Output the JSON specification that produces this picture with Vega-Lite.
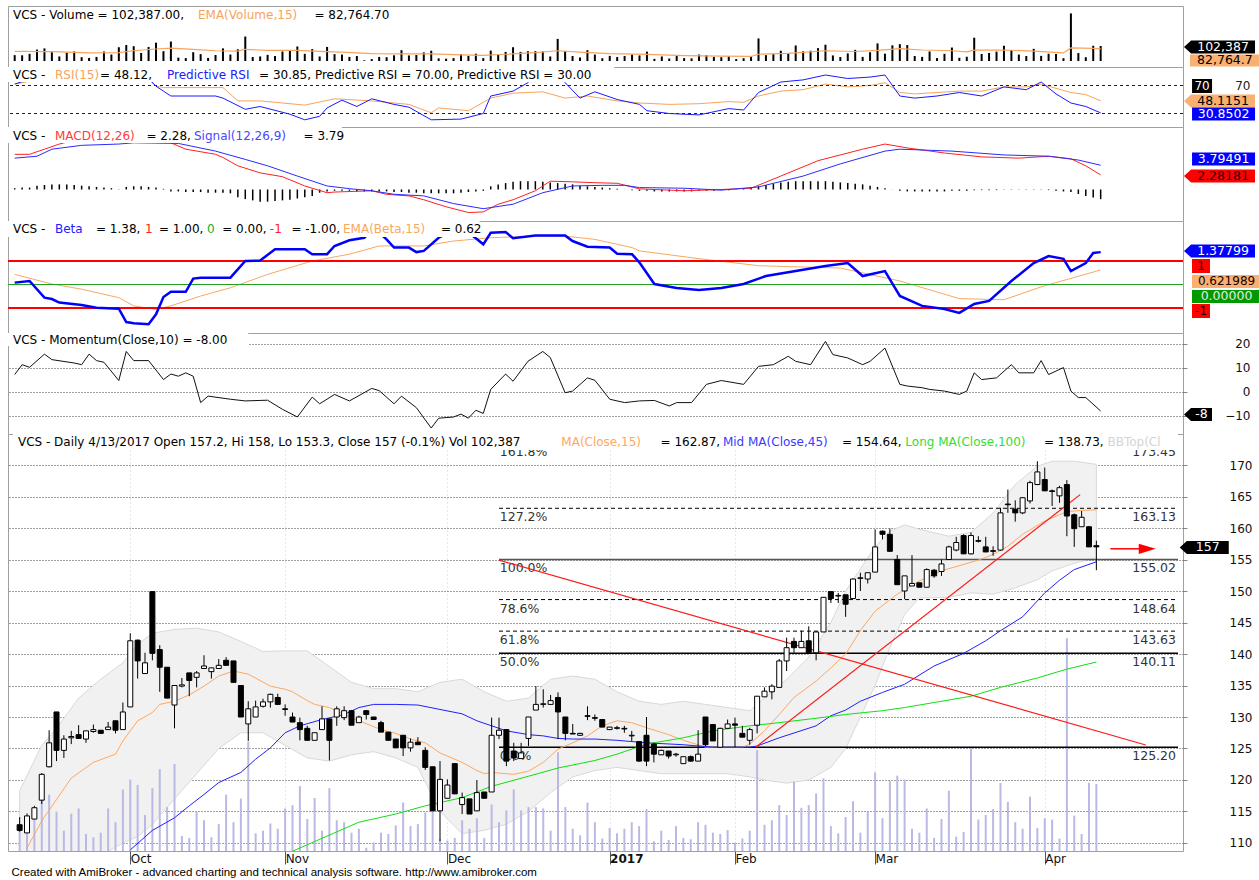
{
"$schema":"https://vega.github.io/schema/vega-lite/v6.json",
"background":"white",
"padding":{"left":6,"top":5,"right":0,"bottom":0},
"spacing":0,
"bounds":"flush",
"config":{"font":"DejaVu Sans","view":{"stroke":"#a0a0a0"},"axis":{"labelFont":"DejaVu Sans"},"text":{"font":"DejaVu Sans"}},
"title":{"text":"Created with AmiBroker - advanced charting and technical analysis software. http://www.amibroker.com","orient":"bottom","anchor":"start","font":"Liberation Sans","fontSize":11.5,"fontWeight":"normal","color":"black","offset":2,"dx":5},
"datasets":{
"one":[{}],
"px":[
{"i":0,"o":112.9,"h":114.1,"l":111.8,"c":112.0,"v":40000},
{"i":1,"o":111.6,"h":114.7,"l":111.6,"c":114.3,"v":39000},
{"i":2,"o":113.8,"h":115.9,"l":113.8,"c":115.6,"v":49000},
{"i":3,"o":116.8,"h":121.1,"l":116.2,"c":120.9,"v":78000},
{"i":4,"o":122.1,"h":127.9,"l":122.0,"c":125.9,"v":86000},
{"i":5,"o":130.8,"h":130.8,"l":123.0,"c":124.7,"v":60000},
{"i":6,"o":124.7,"h":127.1,"l":123.5,"c":126.5,"v":31000},
{"i":7,"o":126.7,"h":127.8,"l":125.7,"c":126.9,"v":57000},
{"i":8,"o":127.2,"h":128.7,"l":126.6,"c":126.6,"v":65000},
{"i":9,"o":126.5,"h":127.8,"l":125.9,"c":127.8,"v":26000},
{"i":10,"o":127.7,"h":128.8,"l":127.5,"c":128.0,"v":21000},
{"i":11,"o":127.9,"h":127.9,"l":127.4,"c":127.4,"v":28000},
{"i":12,"o":128.0,"h":129.2,"l":128.0,"c":128.4,"v":65000},
{"i":13,"o":129.4,"h":129.4,"l":127.4,"c":127.9,"v":44000},
{"i":14,"o":128.0,"h":132.3,"l":128.0,"c":130.8,"v":94000},
{"i":15,"o":131.6,"h":143.3,"l":131.6,"c":142.1,"v":109000},
{"i":16,"o":142.2,"h":142.3,"l":136.1,"c":138.9,"v":101000},
{"i":17,"o":136.9,"h":140.2,"l":136.9,"c":138.6,"v":55000},
{"i":18,"o":149.9,"h":149.9,"l":139.0,"c":140.1,"v":96000},
{"i":19,"o":140.7,"h":141.4,"l":134.0,"c":137.9,"v":125000},
{"i":20,"o":137.9,"h":137.9,"l":133.0,"c":133.0,"v":67000},
{"i":21,"o":131.9,"h":135.0,"l":128.2,"c":135.0,"v":133000},
{"i":22,"o":134.9,"h":136.2,"l":134.7,"c":135.1,"v":23000},
{"i":23,"o":137.0,"h":137.0,"l":133.3,"c":135.8,"v":20000},
{"i":24,"o":136.3,"h":137.3,"l":134.7,"c":137.0,"v":60000},
{"i":25,"o":137.7,"h":139.8,"l":137.7,"c":138.1,"v":47000},
{"i":26,"o":137.2,"h":137.8,"l":136.1,"c":137.8,"v":21000},
{"i":27,"o":137.7,"h":139.2,"l":137.7,"c":138.2,"v":41000},
{"i":28,"o":139.0,"h":139.5,"l":138.2,"c":138.2,"v":86000},
{"i":29,"o":138.9,"h":138.9,"l":135.5,"c":135.5,"v":44000},
{"i":30,"o":135.0,"h":135.0,"l":130.0,"c":130.0,"v":80000},
{"i":31,"o":128.9,"h":132.5,"l":126.2,"c":131.3,"v":167000},
{"i":32,"o":130.0,"h":132.6,"l":130.0,"c":131.6,"v":27000},
{"i":33,"o":131.7,"h":132.9,"l":131.5,"c":132.4,"v":31000},
{"i":34,"o":132.4,"h":133.7,"l":131.5,"c":133.6,"v":42000},
{"i":35,"o":133.1,"h":133.7,"l":132.0,"c":132.0,"v":34000},
{"i":36,"o":131.3,"h":132.0,"l":130.2,"c":131.2,"v":65000},
{"i":37,"o":130.0,"h":130.7,"l":129.2,"c":129.2,"v":70000},
{"i":38,"o":129.1,"h":129.9,"l":126.3,"c":128.0,"v":99000},
{"i":39,"o":128.2,"h":128.6,"l":126.3,"c":126.3,"v":49000},
{"i":40,"o":126.3,"h":127.5,"l":126.3,"c":127.5,"v":81000},
{"i":41,"o":128.0,"h":131.7,"l":128.0,"c":129.7,"v":31000},
{"i":42,"o":129.7,"h":129.7,"l":123.1,"c":126.3,"v":96000},
{"i":43,"o":130.0,"h":131.7,"l":128.6,"c":131.3,"v":47000},
{"i":44,"o":129.9,"h":131.7,"l":129.5,"c":131.0,"v":44000},
{"i":45,"o":131.0,"h":131.1,"l":128.7,"c":128.7,"v":28000},
{"i":46,"o":129.1,"h":130.2,"l":129.1,"c":130.0,"v":34000},
{"i":47,"o":131.0,"h":131.1,"l":129.6,"c":130.4,"v":5000},
{"i":48,"o":130.0,"h":130.0,"l":129.6,"c":129.6,"v":13000},
{"i":49,"o":129.1,"h":129.4,"l":127.6,"c":127.6,"v":28000},
{"i":50,"o":127.6,"h":127.6,"l":126.3,"c":126.3,"v":26000},
{"i":51,"o":126.5,"h":126.5,"l":125.1,"c":125.1,"v":39000},
{"i":52,"o":127.1,"h":127.1,"l":123.8,"c":125.1,"v":74000},
{"i":53,"o":125.1,"h":126.6,"l":124.5,"c":126.0,"v":38000},
{"i":54,"o":126.0,"h":126.8,"l":125.6,"c":125.6,"v":41000},
{"i":55,"o":124.7,"h":125.2,"l":121.6,"c":122.0,"v":59000},
{"i":56,"o":122.1,"h":122.1,"l":115.1,"c":115.1,"v":70000},
{"i":57,"o":115.1,"h":123.0,"l":110.3,"c":120.1,"v":18000},
{"i":58,"o":117.1,"h":120.1,"l":117.1,"c":119.2,"v":16000},
{"i":59,"o":122.6,"h":122.6,"l":117.8,"c":117.8,"v":20000},
{"i":60,"o":116.1,"h":118.0,"l":114.6,"c":117.2,"v":47000},
{"i":61,"o":117.0,"h":117.0,"l":114.6,"c":114.6,"v":34000},
{"i":62,"o":115.1,"h":120.0,"l":115.1,"c":118.0,"v":50000},
{"i":63,"o":118.1,"h":118.1,"l":117.1,"c":117.1,"v":20000},
{"i":64,"o":118.1,"h":129.9,"l":118.1,"c":127.1,"v":71000},
{"i":65,"o":127.1,"h":129.9,"l":126.5,"c":127.9,"v":44000},
{"i":66,"o":128.0,"h":128.0,"l":122.2,"c":123.0,"v":62000},
{"i":67,"o":124.6,"h":125.9,"l":123.0,"c":123.5,"v":94000},
{"i":68,"o":123.4,"h":125.9,"l":123.4,"c":124.3,"v":62000},
{"i":69,"o":126.6,"h":130.0,"l":125.4,"c":130.0,"v":67000},
{"i":70,"o":131.1,"h":134.9,"l":131.1,"c":132.0,"v":67000},
{"i":71,"o":132.0,"h":134.4,"l":131.5,"c":132.1,"v":65000},
{"i":72,"o":132.0,"h":133.5,"l":132.0,"c":132.6,"v":31000},
{"i":73,"o":133.1,"h":133.9,"l":126.5,"c":130.8,"v":151000},
{"i":74,"o":130.0,"h":130.0,"l":126.3,"c":127.4,"v":67000},
{"i":75,"o":127.4,"h":128.9,"l":127.3,"c":127.3,"v":34000},
{"i":76,"o":127.1,"h":127.5,"l":127.0,"c":127.4,"v":24000},
{"i":77,"o":130.2,"h":131.7,"l":129.5,"c":130.1,"v":74000},
{"i":78,"o":129.9,"h":130.4,"l":129.4,"c":129.8,"v":44000},
{"i":79,"o":129.6,"h":129.6,"l":128.4,"c":128.4,"v":19000},
{"i":80,"o":128.0,"h":128.4,"l":128.0,"c":128.4,"v":35000},
{"i":81,"o":128.2,"h":128.6,"l":128.0,"c":128.3,"v":27000},
{"i":82,"o":128.2,"h":128.6,"l":127.5,"c":128.1,"v":34000},
{"i":83,"o":127.0,"h":127.8,"l":126.2,"c":127.1,"v":44000},
{"i":84,"o":126.1,"h":126.1,"l":122.9,"c":123.0,"v":38000},
{"i":85,"o":127.1,"h":130.0,"l":122.2,"c":123.0,"v":64000},
{"i":86,"o":125.7,"h":125.9,"l":122.8,"c":124.1,"v":15000},
{"i":87,"o":124.0,"h":124.8,"l":124.0,"c":124.7,"v":31000},
{"i":88,"o":124.6,"h":124.6,"l":123.4,"c":123.8,"v":17000},
{"i":89,"o":124.0,"h":124.3,"l":123.7,"c":124.1,"v":38000},
{"i":90,"o":122.6,"h":123.7,"l":122.6,"c":123.7,"v":20000},
{"i":91,"o":123.7,"h":123.9,"l":122.9,"c":123.0,"v":18000},
{"i":92,"o":123.0,"h":127.9,"l":123.0,"c":124.1,"v":44000},
{"i":93,"o":130.0,"h":130.0,"l":125.4,"c":125.6,"v":40000},
{"i":94,"o":128.8,"h":128.9,"l":126.2,"c":126.2,"v":28000},
{"i":95,"o":125.2,"h":128.3,"l":125.2,"c":128.2,"v":26000},
{"i":96,"o":128.2,"h":129.6,"l":128.2,"c":128.9,"v":32000},
{"i":97,"o":128.9,"h":129.9,"l":125.2,"c":128.7,"v":13000},
{"i":98,"o":127.4,"h":128.6,"l":126.8,"c":126.8,"v":19000},
{"i":99,"o":126.3,"h":128.3,"l":125.6,"c":128.0,"v":31000},
{"i":100,"o":128.7,"h":133.3,"l":127.4,"c":133.3,"v":154000},
{"i":101,"o":133.2,"h":134.7,"l":133.2,"c":134.1,"v":40000},
{"i":102,"o":134.0,"h":135.2,"l":132.8,"c":134.9,"v":47000},
{"i":103,"o":134.7,"h":139.2,"l":134.7,"c":138.9,"v":70000},
{"i":104,"o":138.9,"h":142.6,"l":137.3,"c":141.0,"v":55000},
{"i":105,"o":142.0,"h":142.6,"l":140.2,"c":141.0,"v":106000},
{"i":106,"o":141.0,"h":143.7,"l":141.0,"c":142.0,"v":66000},
{"i":107,"o":142.1,"h":144.4,"l":140.2,"c":140.2,"v":70000},
{"i":108,"o":140.2,"h":143.5,"l":139.0,"c":143.5,"v":88000},
{"i":109,"o":143.5,"h":149.0,"l":143.5,"c":149.0,"v":111000},
{"i":110,"o":149.9,"h":149.9,"l":148.1,"c":148.8,"v":38000},
{"i":111,"o":149.2,"h":149.7,"l":148.1,"c":149.3,"v":27000},
{"i":112,"o":149.4,"h":149.4,"l":145.9,"c":147.9,"v":52000},
{"i":113,"o":148.8,"h":152.0,"l":148.8,"c":151.9,"v":76000},
{"i":114,"o":152.0,"h":152.9,"l":150.0,"c":152.1,"v":28000},
{"i":115,"o":151.9,"h":152.9,"l":151.2,"c":152.9,"v":60000},
{"i":116,"o":153.0,"h":159.8,"l":153.0,"c":157.0,"v":120000},
{"i":117,"o":159.5,"h":159.6,"l":158.2,"c":159.0,"v":50000},
{"i":118,"o":159.0,"h":159.9,"l":156.3,"c":156.3,"v":107000},
{"i":119,"o":155.0,"h":155.7,"l":151.0,"c":151.0,"v":115000},
{"i":120,"o":150.0,"h":152.4,"l":148.7,"c":152.4,"v":109000},
{"i":121,"o":150.8,"h":155.7,"l":150.8,"c":151.2,"v":34000},
{"i":122,"o":151.3,"h":151.3,"l":150.6,"c":150.6,"v":28000},
{"i":123,"o":150.6,"h":153.6,"l":150.6,"c":153.4,"v":65000},
{"i":124,"o":153.3,"h":153.5,"l":152.1,"c":152.4,"v":20000},
{"i":125,"o":153.1,"h":155.0,"l":152.4,"c":154.3,"v":49000},
{"i":126,"o":155.0,"h":157.2,"l":155.0,"c":157.0,"v":92000},
{"i":127,"o":156.5,"h":158.6,"l":156.3,"c":157.7,"v":22000},
{"i":128,"o":158.8,"h":159.0,"l":155.9,"c":155.9,"v":29000},
{"i":129,"o":155.9,"h":159.3,"l":155.8,"c":158.8,"v":159000},
{"i":130,"o":158.0,"h":158.7,"l":157.7,"c":157.9,"v":48000},
{"i":131,"o":157.0,"h":158.6,"l":156.2,"c":156.2,"v":55000},
{"i":132,"o":156.4,"h":157.1,"l":155.6,"c":156.3,"v":64000},
{"i":133,"o":156.5,"h":163.2,"l":156.4,"c":162.4,"v":104000},
{"i":134,"o":163.8,"h":166.1,"l":162.4,"c":163.7,"v":75000},
{"i":135,"o":163.0,"h":164.4,"l":161.0,"c":162.4,"v":44000},
{"i":136,"o":162.4,"h":164.9,"l":162.2,"c":164.8,"v":34000},
{"i":137,"o":164.3,"h":167.5,"l":163.9,"c":167.2,"v":83000},
{"i":138,"o":166.9,"h":170.6,"l":166.8,"c":168.9,"v":35000},
{"i":139,"o":167.7,"h":169.6,"l":165.9,"c":165.9,"v":50000},
{"i":140,"o":165.9,"h":166.1,"l":163.5,"c":165.8,"v":48000},
{"i":141,"o":165.1,"h":166.7,"l":164.0,"c":166.4,"v":19000},
{"i":142,"o":166.9,"h":167.6,"l":158.7,"c":161.9,"v":325000},
{"i":143,"o":162.1,"h":162.3,"l":157.0,"c":159.9,"v":54000},
{"i":144,"o":160.2,"h":162.7,"l":160.2,"c":161.7,"v":26000},
{"i":145,"o":160.2,"h":160.3,"l":157.0,"c":157.0,"v":104000},
{"i":146,"o":157.2,"h":158.0,"l":153.3,"c":157.0,"v":102387}
],
"vema":[{"i":0,"v":66000},{"i":5,"v":64000},{"i":10,"v":55000},{"i":14,"v":57000},{"i":16,"v":70000},{"i":19,"v":82000},{"i":21,"v":88000},{"i":24,"v":80000},{"i":27,"v":70000},{"i":30,"v":68000},{"i":31,"v":80000},{"i":34,"v":72000},{"i":38,"v":72000},{"i":41,"v":66000},{"i":44,"v":60000},{"i":48,"v":50000},{"i":52,"v":48000},{"i":56,"v":49000},{"i":60,"v":42000},{"i":63,"v":38000},{"i":66,"v":46000},{"i":70,"v":57000},{"i":73,"v":70000},{"i":76,"v":60000},{"i":80,"v":50000},{"i":85,"v":45000},{"i":90,"v":37000},{"i":95,"v":33000},{"i":99,"v":31000},{"i":100,"v":46000},{"i":104,"v":52000},{"i":109,"v":70000},{"i":113,"v":65000},{"i":116,"v":72000},{"i":119,"v":85000},{"i":122,"v":75000},{"i":126,"v":70000},{"i":128,"v":62000},{"i":129,"v":74000},{"i":133,"v":75000},{"i":137,"v":68000},{"i":141,"v":55000},{"i":142,"v":89000},{"i":145,"v":86000},{"i":146,"v":82765}],
"rsi":[{"i":0,"r":72},{"i":2,"r":76},{"i":4,"r":82},{"i":6,"r":84},{"i":8,"r":84},{"i":10,"r":83},{"i":12,"r":84},{"i":14,"r":86},{"i":16,"r":86},{"i":18,"r":78},{"i":19,"r":69},{"i":20,"r":67},{"i":28,"r":67},{"i":30,"r":48},{"i":33,"r":48},{"i":39,"r":42},{"i":43,"r":51},{"i":48,"r":48},{"i":53,"r":43},{"i":56,"r":31},{"i":57,"r":38},{"i":61,"r":34},{"i":64,"r":52},{"i":67,"r":59},{"i":71,"r":61},{"i":74,"r":52},{"i":77,"r":55},{"i":81,"r":48},{"i":84,"r":45},{"i":88,"r":43},{"i":92,"r":44},{"i":96,"r":47},{"i":98,"r":46},{"i":100,"r":55},{"i":103,"r":62},{"i":106,"r":64},{"i":109,"r":72},{"i":112,"r":68},{"i":115,"r":70},{"i":117,"r":74},{"i":119,"r":60},{"i":121,"r":58},{"i":124,"r":60},{"i":127,"r":62},{"i":130,"r":62},{"i":133,"r":68},{"i":136,"r":68},{"i":138,"r":72},{"i":140,"r":66},{"i":142,"r":60},{"i":144,"r":57},{"i":146,"r":48.12}],
"prsi":[{"i":0,"r":72},{"i":2,"r":79},{"i":4,"r":88},{"i":8,"r":90},{"i":12,"r":90},{"i":16,"r":92},{"i":18,"r":80},{"i":19,"r":69},{"i":20,"r":62},{"i":21,"r":55},{"i":27,"r":55},{"i":28,"r":52},{"i":31,"r":36},{"i":33,"r":40},{"i":37,"r":29},{"i":39,"r":21},{"i":41,"r":26},{"i":42,"r":38},{"i":44,"r":49},{"i":46,"r":40},{"i":48,"r":51},{"i":51,"r":43},{"i":53,"r":39},{"i":56,"r":21},{"i":60,"r":22},{"i":63,"r":30},{"i":64,"r":55},{"i":67,"r":62},{"i":69,"r":74},{"i":70,"r":85},{"i":73,"r":88},{"i":74,"r":74},{"i":76,"r":52},{"i":78,"r":61},{"i":81,"r":50},{"i":84,"r":43},{"i":85,"r":34},{"i":88,"r":30},{"i":92,"r":28},{"i":96,"r":37},{"i":98,"r":35},{"i":100,"r":60},{"i":103,"r":75},{"i":106,"r":78},{"i":109,"r":85},{"i":112,"r":80},{"i":115,"r":82},{"i":117,"r":85},{"i":119,"r":55},{"i":121,"r":52},{"i":124,"r":55},{"i":127,"r":60},{"i":130,"r":55},{"i":133,"r":68},{"i":136,"r":64},{"i":138,"r":75},{"i":140,"r":58},{"i":142,"r":45},{"i":144,"r":40},{"i":146,"r":30.85}],
"macd":[{"i":0,"m":5.5},{"i":2,"m":5.5},{"i":4,"m":6.3},{"i":6,"m":7.1},{"i":9,"m":8.0},{"i":12,"m":8.5},{"i":15,"m":8.8},{"i":18,"m":9.3},{"i":21,"m":7.3},{"i":23,"m":6.3},{"i":27,"m":5.5},{"i":28,"m":5.0},{"i":30,"m":3.7},{"i":33,"m":2.6},{"i":36,"m":2.0},{"i":39,"m":0.55},{"i":42,"m":-0.5},{"i":43,"m":-0.4},{"i":48,"m":-0.2},{"i":50,"m":-0.75},{"i":53,"m":-1.0},{"i":55,"m":-1.6},{"i":58,"m":-2.7},{"i":61,"m":-3.6},{"i":63,"m":-3.5},{"i":65,"m":-2.3},{"i":67,"m":-1.6},{"i":70,"m":-0.2},{"i":72,"m":1.3},{"i":75,"m":1.2},{"i":78,"m":1.06},{"i":81,"m":0.97},{"i":84,"m":0.1},{"i":90,"m":-0.2},{"i":95,"m":0.0},{"i":99,"m":0.2},{"i":103,"m":2.1},{"i":108,"m":4.5},{"i":114,"m":6.3},{"i":117,"m":7.1},{"i":120,"m":6.5},{"i":125,"m":5.7},{"i":130,"m":5.1},{"i":135,"m":4.9},{"i":139,"m":5.2},{"i":142,"m":4.8},{"i":144,"m":3.7},{"i":146,"m":2.28}],
"sig":[{"i":0,"m":4.9},{"i":3,"m":5.2},{"i":5,"m":6.3},{"i":9,"m":6.9},{"i":14,"m":7.1},{"i":16,"m":7.3},{"i":22,"m":7.2},{"i":27,"m":6.0},{"i":31,"m":4.7},{"i":34,"m":3.7},{"i":38,"m":2.1},{"i":42,"m":0.55},{"i":45,"m":0.13},{"i":48,"m":-0.2},{"i":51,"m":-0.75},{"i":55,"m":-1.0},{"i":59,"m":-2.2},{"i":63,"m":-3.0},{"i":67,"m":-2.3},{"i":71,"m":-0.5},{"i":75,"m":0.55},{"i":79,"m":0.65},{"i":82,"m":0.65},{"i":84,"m":0.3},{"i":90,"m":0.2},{"i":95,"m":-0.1},{"i":100,"m":0.4},{"i":106,"m":2.1},{"i":111,"m":4.0},{"i":117,"m":6.0},{"i":119,"m":6.3},{"i":126,"m":6.0},{"i":133,"m":5.4},{"i":139,"m":5.2},{"i":143,"m":4.6},{"i":146,"m":3.79}],
"hist":[{"i":0,"h":0.2},{"i":1,"h":0.3},{"i":2,"h":0.3},{"i":3,"h":0.6},{"i":4,"h":0.7},{"i":5,"h":0.8},{"i":6,"h":0.8},{"i":7,"h":0.8},{"i":8,"h":0.7},{"i":9,"h":0.6},{"i":10,"h":0.5},{"i":11,"h":0.4},{"i":12,"h":0.3},{"i":13,"h":0.2},{"i":14,"h":0.05},{"i":15,"h":0.4},{"i":16,"h":0.5},{"i":17,"h":0.5},{"i":18,"h":0.4},{"i":19,"h":0.3},{"i":20,"h":0.1},{"i":21,"h":-0.3},{"i":22,"h":-0.3},{"i":23,"h":-0.4},{"i":24,"h":-0.4},{"i":25,"h":-0.4},{"i":26,"h":-0.5},{"i":27,"h":-0.5},{"i":28,"h":-0.5},{"i":29,"h":-0.6},{"i":30,"h":-1.2},{"i":31,"h":-1.5},{"i":32,"h":-1.7},{"i":33,"h":-1.9},{"i":34,"h":-1.9},{"i":35,"h":-1.8},{"i":36,"h":-1.7},{"i":37,"h":-1.6},{"i":38,"h":-1.4},{"i":39,"h":-1.2},{"i":40,"h":-1.0},{"i":41,"h":-0.5},{"i":42,"h":-0.3},{"i":43,"h":-0.2},{"i":44,"h":-0.2},{"i":45,"h":-0.2},{"i":46,"h":-0.3},{"i":47,"h":-0.3},{"i":48,"h":-0.3},{"i":49,"h":-0.3},{"i":50,"h":-0.3},{"i":51,"h":-0.4},{"i":52,"h":-0.4},{"i":53,"h":-0.5},{"i":54,"h":-0.5},{"i":55,"h":-0.6},{"i":56,"h":-0.6},{"i":57,"h":-0.6},{"i":58,"h":-0.6},{"i":59,"h":-0.6},{"i":60,"h":-0.5},{"i":61,"h":-0.4},{"i":62,"h":-0.3},{"i":63,"h":-0.2},{"i":64,"h":0.5},{"i":65,"h":0.8},{"i":66,"h":1.0},{"i":67,"h":1.2},{"i":68,"h":1.3},{"i":69,"h":1.3},{"i":70,"h":1.3},{"i":71,"h":1.2},{"i":72,"h":1.1},{"i":73,"h":1.0},{"i":74,"h":0.9},{"i":75,"h":0.8},{"i":76,"h":0.6},{"i":77,"h":0.5},{"i":78,"h":0.4},{"i":79,"h":0.3},{"i":80,"h":0.2},{"i":81,"h":0.1},{"i":82,"h":0.02},{"i":83,"h":-0.1},{"i":84,"h":-0.2},{"i":85,"h":-0.2},{"i":86,"h":-0.3},{"i":87,"h":-0.3},{"i":88,"h":-0.3},{"i":89,"h":-0.3},{"i":90,"h":-0.3},{"i":91,"h":-0.3},{"i":92,"h":-0.2},{"i":93,"h":-0.2},{"i":94,"h":-0.2},{"i":95,"h":-0.1},{"i":96,"h":-0.1},{"i":97,"h":0.02},{"i":98,"h":0.1},{"i":99,"h":0.3},{"i":100,"h":0.5},{"i":101,"h":0.7},{"i":102,"h":0.9},{"i":103,"h":1.1},{"i":104,"h":1.2},{"i":105,"h":1.3},{"i":106,"h":1.3},{"i":107,"h":1.3},{"i":108,"h":1.3},{"i":109,"h":1.3},{"i":110,"h":1.2},{"i":111,"h":1.1},{"i":112,"h":1.0},{"i":113,"h":0.9},{"i":114,"h":0.8},{"i":115,"h":0.6},{"i":116,"h":0.4},{"i":117,"h":0.2},{"i":118,"h":0.02},{"i":119,"h":-0.2},{"i":120,"h":-0.3},{"i":121,"h":-0.3},{"i":122,"h":-0.3},{"i":123,"h":-0.3},{"i":124,"h":-0.3},{"i":125,"h":-0.3},{"i":126,"h":-0.2},{"i":127,"h":-0.2},{"i":128,"h":-0.2},{"i":129,"h":-0.1},{"i":130,"h":-0.1},{"i":131,"h":-0.1},{"i":132,"h":-0.1},{"i":133,"h":-0.05},{"i":134,"h":0.05},{"i":135,"h":0.05},{"i":136,"h":-0.05},{"i":137,"h":-0.05},{"i":138,"h":-0.05},{"i":139,"h":-0.1},{"i":140,"h":-0.2},{"i":141,"h":-0.3},{"i":142,"h":-0.4},{"i":143,"h":-0.7},{"i":144,"h":-1.0},{"i":145,"h":-1.25},{"i":146,"h":-1.51}],
"beta":[{"i":0,"b":0.08},{"i":2,"b":0.15},{"i":4,"b":-0.56},{"i":5,"b":-0.62},{"i":6,"b":-0.77},{"i":9,"b":-0.87},{"i":11,"b":-0.99},{"i":14,"b":-1.03},{"i":15,"b":-1.6},{"i":16,"b":-1.65},{"i":18,"b":-1.69},{"i":19,"b":-1.27},{"i":20,"b":-0.53},{"i":21,"b":-0.31},{"i":23,"b":-0.31},{"i":24,"b":0.25},{"i":25,"b":0.29},{"i":29,"b":0.29},{"i":31,"b":1.0},{"i":33,"b":1.02},{"i":35,"b":1.5},{"i":39,"b":1.5},{"i":40,"b":1.29},{"i":42,"b":1.29},{"i":43,"b":1.64},{"i":45,"b":1.88},{"i":47,"b":1.99},{"i":48,"b":2.3},{"i":49,"b":2.2},{"i":50,"b":1.92},{"i":51,"b":1.57},{"i":53,"b":1.57},{"i":54,"b":1.38},{"i":55,"b":1.43},{"i":57,"b":1.99},{"i":59,"b":2.3},{"i":61,"b":2.2},{"i":62,"b":1.97},{"i":63,"b":1.71},{"i":64,"b":2.2},{"i":66,"b":2.23},{"i":67,"b":1.97},{"i":70,"b":2.09},{"i":74,"b":2.09},{"i":75,"b":1.85},{"i":77,"b":1.61},{"i":80,"b":1.57},{"i":81,"b":1.31},{"i":83,"b":1.29},{"i":84,"b":0.93},{"i":86,"b":0.02},{"i":89,"b":-0.15},{"i":92,"b":-0.23},{"i":95,"b":-0.15},{"i":98,"b":0.02},{"i":101,"b":0.36},{"i":105,"b":0.57},{"i":109,"b":0.79},{"i":112,"b":0.91},{"i":114,"b":0.36},{"i":117,"b":0.57},{"i":119,"b":-0.49},{"i":122,"b":-0.91},{"i":125,"b":-1.04},{"i":127,"b":-1.21},{"i":129,"b":-0.83},{"i":131,"b":-0.7},{"i":134,"b":0.15},{"i":137,"b":0.91},{"i":139,"b":1.21},{"i":141,"b":1.09},{"i":142,"b":0.57},{"i":144,"b":0.91},{"i":145,"b":1.34},{"i":146,"b":1.378}],
"bema":[{"i":0,"b":0.43},{"i":5,"b":0.02},{"i":9,"b":-0.2},{"i":14,"b":-0.56},{"i":16,"b":-0.91},{"i":19,"b":-1.06},{"i":21,"b":-0.91},{"i":25,"b":-0.49},{"i":29,"b":-0.14},{"i":34,"b":0.43},{"i":40,"b":1.0},{"i":45,"b":1.29},{"i":49,"b":1.64},{"i":55,"b":1.64},{"i":59,"b":1.85},{"i":64,"b":1.99},{"i":70,"b":2.06},{"i":74,"b":2.06},{"i":78,"b":1.92},{"i":83,"b":1.57},{"i":84,"b":1.43},{"i":92,"b":1.1},{"i":100,"b":0.8},{"i":111,"b":0.7},{"i":119,"b":0.15},{"i":127,"b":-0.6},{"i":133,"b":-0.65},{"i":138,"b":-0.1},{"i":146,"b":0.62}],
"mom":[{"i":0,"m":7.2},{"i":1,"m":11.3},{"i":2,"m":10.2},{"i":4,"m":15.7},{"i":5,"m":13.4},{"i":8,"m":12},{"i":9,"m":11.3},{"i":10,"m":15.7},{"i":11,"m":13},{"i":12,"m":12.3},{"i":14,"m":4.7},{"i":15,"m":16.8},{"i":16,"m":13},{"i":18,"m":13},{"i":20,"m":5.1},{"i":21,"m":7.4},{"i":22,"m":6.5},{"i":23,"m":7.9},{"i":24,"m":6.5},{"i":25,"m":-4.5},{"i":26,"m":-1.8},{"i":29,"m":-3.1},{"i":31,"m":-3.8},{"i":34,"m":-3.5},{"i":36,"m":-7.3},{"i":38,"m":-10.5},{"i":40,"m":-2.2},{"i":41,"m":-5},{"i":43,"m":-1.1},{"i":45,"m":-3.8},{"i":48,"m":1.4},{"i":49,"m":0.5},{"i":51,"m":-5},{"i":52,"m":-1.8},{"i":54,"m":-6.6},{"i":56,"m":-15.1},{"i":57,"m":-11},{"i":59,"m":-10.5},{"i":60,"m":-9.3},{"i":61,"m":-11},{"i":62,"m":-7.7},{"i":63,"m":-9},{"i":64,"m":1},{"i":66,"m":7.4},{"i":67,"m":4.4},{"i":69,"m":12.7},{"i":71,"m":16.8},{"i":72,"m":14.3},{"i":74,"m":-0.4},{"i":75,"m":0.3},{"i":77,"m":5.8},{"i":78,"m":4.8},{"i":80,"m":-3.1},{"i":82,"m":-4.5},{"i":84,"m":-3.8},{"i":86,"m":-3.6},{"i":88,"m":-5.9},{"i":89,"m":-4.5},{"i":91,"m":-4.5},{"i":93,"m":3.1},{"i":95,"m":4.7},{"i":98,"m":3.1},{"i":100,"m":10.6},{"i":102,"m":11.3},{"i":104,"m":14.8},{"i":105,"m":12.7},{"i":107,"m":11.3},{"i":109,"m":21},{"i":110,"m":15.5},{"i":112,"m":14.1},{"i":114,"m":11.3},{"i":115,"m":12.7},{"i":117,"m":18.2},{"i":119,"m":3.1},{"i":120,"m":2.4},{"i":122,"m":1.7},{"i":123,"m":1},{"i":125,"m":0.3},{"i":127,"m":-1.1},{"i":128,"m":0.3},{"i":129,"m":7.9},{"i":130,"m":5.1},{"i":132,"m":5.8},{"i":134,"m":11.3},{"i":135,"m":7.9},{"i":137,"m":7.9},{"i":138,"m":13},{"i":139,"m":7.2},{"i":141,"m":10.1},{"i":142,"m":0.3},{"i":143,"m":-2.4},{"i":144,"m":-2.4},{"i":146,"m":-8}],
"ma":[
{"s":"a","i":1,"p":109.2},{"s":"a","i":3,"p":113.5},{"s":"a","i":5,"p":116.9},{"s":"a","i":7,"p":120.3},{"s":"a","i":10,"p":122.8},{"s":"a","i":13,"p":124.1},{"s":"a","i":14,"p":126.2},{"s":"a","i":16,"p":129.4},{"s":"a","i":18,"p":130.7},{"s":"a","i":19,"p":132.0},{"s":"a","i":21,"p":132.5},{"s":"a","i":23,"p":133.5},{"s":"a","i":25,"p":134.9},{"s":"a","i":27,"p":136.5},{"s":"a","i":29,"p":137.3},{"s":"a","i":31,"p":136.8},{"s":"a","i":34,"p":134.9},{"s":"a","i":36,"p":134.4},{"s":"a","i":37,"p":134.0},{"s":"a","i":39,"p":132.6},{"s":"a","i":40,"p":132.0},{"s":"a","i":42,"p":131.5},{"s":"a","i":44,"p":130.4},{"s":"a","i":46,"p":129.4},{"s":"a","i":49,"p":128.0},{"s":"a","i":51,"p":127.4},{"s":"a","i":53,"p":126.5},{"s":"a","i":55,"p":125.9},{"s":"a","i":57,"p":124.3},{"s":"a","i":60,"p":122.8},{"s":"a","i":62,"p":121.5},{"s":"a","i":63,"p":121.0},{"s":"a","i":64,"p":121.2},{"s":"a","i":67,"p":120.9},{"s":"a","i":69,"p":121.4},{"s":"a","i":71,"p":122.8},{"s":"a","i":73,"p":124.9},{"s":"a","i":75,"p":125.9},{"s":"a","i":77,"p":127.0},{"s":"a","i":79,"p":128.6},{"s":"a","i":81,"p":129.4},{"s":"a","i":83,"p":129.1},{"s":"a","i":85,"p":128.3},{"s":"a","i":88,"p":127.2},{"s":"a","i":90,"p":126.3},{"s":"a","i":92,"p":125.6},{"s":"a","i":93,"p":125.2},{"s":"a","i":96,"p":125.2},{"s":"a","i":98,"p":125.2},{"s":"a","i":99,"p":125.7},{"s":"a","i":101,"p":127.8},{"s":"a","i":103,"p":130.4},{"s":"a","i":105,"p":133.1},{"s":"a","i":108,"p":135.7},{"s":"a","i":110,"p":137.8},{"s":"a","i":112,"p":140.0},{"s":"a","i":114,"p":143.7},{"s":"a","i":116,"p":146.8},{"s":"a","i":119,"p":149.5},{"s":"a","i":122,"p":151.6},{"s":"a","i":125,"p":153.2},{"s":"a","i":130,"p":154.9},{"s":"a","i":132,"p":155.8},{"s":"a","i":134,"p":157.1},{"s":"a","i":136,"p":159.0},{"s":"a","i":139,"p":161.1},{"s":"a","i":141,"p":162.1},{"s":"a","i":142,"p":162.6},{"s":"a","i":144,"p":162.8},{"s":"a","i":146,"p":162.87},
{"s":"b","i":15,"p":108.9},{"s":"b","i":18,"p":112.0},{"s":"b","i":21,"p":114.0},{"s":"b","i":23,"p":115.9},{"s":"b","i":25,"p":117.7},{"s":"b","i":27,"p":119.6},{"s":"b","i":30,"p":121.2},{"s":"b","i":32,"p":123.3},{"s":"b","i":34,"p":125.1},{"s":"b","i":36,"p":127.5},{"s":"b","i":38,"p":128.6},{"s":"b","i":41,"p":129.6},{"s":"b","i":44,"p":130.4},{"s":"b","i":46,"p":131.5},{"s":"b","i":48,"p":132.0},{"s":"b","i":51,"p":132.0},{"s":"b","i":54,"p":131.9},{"s":"b","i":57,"p":131.2},{"s":"b","i":60,"p":130.5},{"s":"b","i":62,"p":129.4},{"s":"b","i":64,"p":128.6},{"s":"b","i":66,"p":127.8},{"s":"b","i":69,"p":127.2},{"s":"b","i":71,"p":127.0},{"s":"b","i":73,"p":126.6},{"s":"b","i":75,"p":126.5},{"s":"b","i":78,"p":126.5},{"s":"b","i":81,"p":126.3},{"s":"b","i":85,"p":125.9},{"s":"b","i":90,"p":125.6},{"s":"b","i":94,"p":125.2},{"s":"b","i":99,"p":125.2},{"s":"b","i":100,"p":125.4},{"s":"b","i":103,"p":126.7},{"s":"b","i":108,"p":128.6},{"s":"b","i":110,"p":130.2},{"s":"b","i":112,"p":131.1},{"s":"b","i":114,"p":132.5},{"s":"b","i":117,"p":133.9},{"s":"b","i":120,"p":135.2},{"s":"b","i":124,"p":138.1},{"s":"b","i":128,"p":140.1},{"s":"b","i":131,"p":142.1},{"s":"b","i":133,"p":143.7},{"s":"b","i":136,"p":145.9},{"s":"b","i":139,"p":149.7},{"s":"b","i":141,"p":151.7},{"s":"b","i":143,"p":153.4},{"s":"b","i":146,"p":154.64},
{"s":"c","i":37,"p":108.7},{"s":"c","i":46,"p":113.3},{"s":"c","i":51,"p":114.6},{"s":"c","i":55,"p":115.9},{"s":"c","i":60,"p":117.2},{"s":"c","i":64,"p":119.0},{"s":"c","i":69,"p":120.6},{"s":"c","i":73,"p":121.9},{"s":"c","i":78,"p":123.1},{"s":"c","i":81,"p":124.1},{"s":"c","i":85,"p":125.7},{"s":"c","i":90,"p":126.7},{"s":"c","i":94,"p":127.8},{"s":"c","i":99,"p":128.6},{"s":"c","i":103,"p":129.1},{"s":"c","i":108,"p":129.8},{"s":"c","i":112,"p":130.4},{"s":"c","i":117,"p":131.0},{"s":"c","i":120,"p":131.5},{"s":"c","i":124,"p":132.3},{"s":"c","i":129,"p":133.3},{"s":"c","i":133,"p":134.7},{"s":"c","i":138,"p":136.2},{"s":"c","i":142,"p":137.6},{"s":"c","i":146,"p":138.73}
],
"bb":[{"i":0,"t":118.3,"b":104},{"i":3,"t":125.5,"b":104},{"i":5,"t":128.2,"b":104.5},{"i":8,"t":133,"b":106},{"i":11,"t":136,"b":108},{"i":14,"t":138.6,"b":110},{"i":16,"t":141.5,"b":111},{"i":18,"t":143.3,"b":113},{"i":21,"t":143.9,"b":117},{"i":24,"t":144.1,"b":121},{"i":27,"t":143.5,"b":125},{"i":30,"t":142,"b":127.5},{"i":33,"t":140.4,"b":127.5},{"i":36,"t":140.5,"b":125.5},{"i":39,"t":140.5,"b":123.5},{"i":42,"t":138,"b":123},{"i":45,"t":135.5,"b":124},{"i":48,"t":134.5,"b":124.5},{"i":51,"t":134.5,"b":123.5},{"i":54,"t":134,"b":122},{"i":57,"t":135.5,"b":115},{"i":60,"t":136,"b":111.5},{"i":63,"t":134,"b":112},{"i":66,"t":132.5,"b":113},{"i":69,"t":133,"b":115},{"i":72,"t":136,"b":118},{"i":75,"t":136.5,"b":120.5},{"i":78,"t":136,"b":121.5},{"i":81,"t":134,"b":122},{"i":84,"t":132.5,"b":121.5},{"i":87,"t":132,"b":121},{"i":90,"t":132.5,"b":121},{"i":93,"t":132,"b":121},{"i":96,"t":131.5,"b":121},{"i":99,"t":131,"b":120.5},{"i":101,"t":133,"b":120},{"i":104,"t":136,"b":119.5},{"i":107,"t":139.5,"b":120},{"i":110,"t":145,"b":122},{"i":112,"t":150,"b":125},{"i":114,"t":153.5,"b":130},{"i":116,"t":157,"b":135},{"i":118,"t":159.5,"b":141},{"i":120,"t":160.5,"b":146.3},{"i":122,"t":159.8,"b":148.9},{"i":126,"t":158.7,"b":149},{"i":129,"t":159.3,"b":149.7},{"i":132,"t":162.4,"b":149.5},{"i":135,"t":166.9,"b":150.5},{"i":138,"t":169.8,"b":151.8},{"i":140,"t":170.6,"b":153.2},{"i":143,"t":170.6,"b":154.4},{"i":146,"t":170.1,"b":155.3}],
"fib":[{"p":173.45,"pct":"161.8%","lbl":"173.45"},{"p":163.13,"pct":"127.2%","lbl":"163.13"},{"p":155.02,"pct":"100.0%","lbl":"155.02"},{"p":148.64,"pct":"78.6%","lbl":"148.64"},{"p":143.63,"pct":"61.8%","lbl":"143.63"},{"p":140.11,"pct":"50.0%","lbl":"140.11"},{"p":125.2,"pct":"0.0%","lbl":"125.20"}],
"trend":[{"ln":"a","i":65,"p":154.9},{"ln":"a","i":152.7,"p":125.56},{"ln":"b","i":99.8,"p":125.2},{"ln":"b","i":143.8,"p":165.3}]
},
"vconcat":[
{"width":1175,"height":61,"layer":[
{"data":{"name":"px"},"mark":{"type":"rule","color":"black","strokeWidth":2},"encoding":{"x":{"field":"i","type":"quantitative","scale":{"domain":[-0.9,157.07],"nice":false,"zero":false},"axis":null},"y":{"field":"v","type":"quantitative","scale":{"domain":[-40962,375485],"nice":false,"zero":false},"axis":null},"y2":{"datum":0}}},
{"data":{"name":"vema"},"mark":{"type":"line","color":"#f7a35c","strokeWidth":1.2,"clip":true},"encoding":{"x":{"field":"i","type":"quantitative","axis":null},"y":{"field":"v","type":"quantitative","axis":null}}},
{"data":{"name":"one"},"mark":{"type":"text","align":"left","baseline":"middle","fontSize":12,"color":"#000","dy":9},"encoding":{"x":{"datum":-0.23,"type":"quantitative","axis":null},"y":{"datum":375485,"type":"quantitative","axis":null},"text":{"value":"VCS - Volume = 102,387.00,"}}},
{"data":{"name":"one"},"mark":{"type":"text","align":"left","baseline":"middle","fontSize":12,"color":"#f7a35c","dy":9},"encoding":{"x":{"datum":24.64,"type":"quantitative","axis":null},"y":{"datum":375485,"type":"quantitative","axis":null},"text":{"value":"EMA(Volume,15)"}}},
{"data":{"name":"one"},"mark":{"type":"text","align":"left","baseline":"middle","fontSize":12,"color":"#000","dy":9},"encoding":{"x":{"datum":40.3,"type":"quantitative","axis":null},"y":{"datum":375485,"type":"quantitative","axis":null},"text":{"value":"= 82,764.70"}}},
{"data":{"name":"one"},"mark":{"type":"point","shape":"M-1,0L-0.8,-0.183L1,-0.183L1,0.183L-0.8,0.183Z","size":5041,"filled":true,"color":"black","opacity":1,"strokeWidth":0},"encoding":{"x":{"datum":161.98,"type":"quantitative","axis":null},"y":{"datum":95578,"type":"quantitative","axis":null}}},
{"data":{"name":"one"},"mark":{"type":"text","align":"center","baseline":"middle","fontSize":12.5,"color":"white"},"encoding":{"x":{"datum":162.45,"type":"quantitative","axis":null},"y":{"datum":95578,"type":"quantitative","axis":null},"text":{"value":"102,387"}}},
{"data":{"name":"one"},"mark":{"type":"point","shape":"M-1,-0.169L1,-0.169L1,0.169L-1,0.169Z","size":5041,"filled":true,"color":"#f9b070","opacity":1,"strokeWidth":0},"encoding":{"x":{"datum":162.78,"type":"quantitative","axis":null},"y":{"datum":3414,"type":"quantitative","axis":null}}},
{"data":{"name":"one"},"mark":{"type":"text","align":"center","baseline":"middle","fontSize":12.5,"color":"black"},"encoding":{"x":{"datum":162.7,"type":"quantitative","axis":null},"y":{"datum":3414,"type":"quantitative","axis":null},"text":{"value":"82,764.7"}}}
]},
{"width":1175,"height":60,"resolve":{"axis":{"x":"independent","y":"independent"}},"layer":[
{"data":{"name":"rsi"},"mark":{"type":"line","color":"#f7a35c","strokeWidth":1,"clip":true},"encoding":{"x":{"field":"i","type":"quantitative","scale":{"domain":[-0.9,157.07],"nice":false,"zero":false},"axis":null},"y":{"field":"r","type":"quantitative","scale":{"domain":[10.714,96.43],"nice":false,"zero":false},"axis":{"orient":"right","values":[70],"grid":false,"domain":false,"ticks":false,"labelAlign":"right","labelPadding":67,"labelFontSize":12,"labelColor":"#202020","title":null}}}},
{"data":{"name":"one"},"mark":{"type":"rule","color":"#202020","strokeDash":[3,3],"strokeWidth":1},"encoding":{"y":{"datum":70,"type":"quantitative","axis":null}}},
{"data":{"name":"one"},"mark":{"type":"rule","color":"#202020","strokeDash":[3,3],"strokeWidth":1},"encoding":{"y":{"datum":30,"type":"quantitative","axis":null}}},
{"data":{"name":"prsi"},"mark":{"type":"line","color":"#1a1aff","strokeWidth":1,"clip":true},"encoding":{"x":{"field":"i","type":"quantitative","axis":null},"y":{"field":"r","type":"quantitative","axis":null}}},
{"data":{"name":"one"},"mark":{"type":"rect","color":"white"},"encoding":{"x":{"datum":-0.9,"type":"quantitative","axis":null},"x2":{"datum":80.6},"y":{"datum":96.43,"type":"quantitative","axis":null},"y2":{"datum":75}}},
{"data":{"name":"one"},"mark":{"type":"text","align":"left","baseline":"middle","fontSize":12,"color":"#000","dy":8},"encoding":{"x":{"datum":-0.23,"type":"quantitative","axis":null},"y":{"datum":96.43,"type":"quantitative","axis":null},"text":{"value":"VCS -"}}},
{"data":{"name":"one"},"mark":{"type":"text","align":"left","baseline":"middle","fontSize":12,"color":"#f7a35c","dy":8},"encoding":{"x":{"datum":5.42,"type":"quantitative","axis":null},"y":{"datum":96.43,"type":"quantitative","axis":null},"text":{"value":"RSI(15)"}}},
{"data":{"name":"one"},"mark":{"type":"text","align":"left","baseline":"middle","fontSize":12,"color":"#000","dy":8},"encoding":{"x":{"datum":11.47,"type":"quantitative","axis":null},"y":{"datum":96.43,"type":"quantitative","axis":null},"text":{"value":"= 48.12,"}}},
{"data":{"name":"one"},"mark":{"type":"text","align":"left","baseline":"middle","fontSize":12,"color":"#2020ff","dy":8},"encoding":{"x":{"datum":20.48,"type":"quantitative","axis":null},"y":{"datum":96.43,"type":"quantitative","axis":null},"text":{"value":"Predictive RSI"}}},
{"data":{"name":"one"},"mark":{"type":"text","align":"left","baseline":"middle","fontSize":12,"color":"#000","dy":8},"encoding":{"x":{"datum":32.85,"type":"quantitative","axis":null},"y":{"datum":96.43,"type":"quantitative","axis":null},"text":{"value":"= 30.85, Predictive RSI = 70.00, Predictive RSI = 30.00"}}},
{"data":{"name":"one"},"mark":{"type":"point","shape":"M-1,-0.7L1,-0.7L1,0.7L-1,0.7Z","size":400,"filled":true,"color":"black","opacity":1,"strokeWidth":0},"encoding":{"x":{"datum":159.63,"type":"quantitative","axis":null},"y":{"datum":69.29,"type":"quantitative","axis":null}}},
{"data":{"name":"one"},"mark":{"type":"text","align":"center","baseline":"middle","fontSize":12,"color":"white"},"encoding":{"x":{"datum":159.63,"type":"quantitative","axis":null},"y":{"datum":69.29,"type":"quantitative","axis":null},"text":{"value":"70"}}},
{"data":{"name":"one"},"mark":{"type":"point","shape":"M-1,0L-0.8,-0.183L1,-0.183L1,0.183L-0.8,0.183Z","size":5041,"filled":true,"color":"#f9b070","opacity":1,"strokeWidth":0},"encoding":{"x":{"datum":161.98,"type":"quantitative","axis":null},"y":{"datum":47.86,"type":"quantitative","axis":null}}},
{"data":{"name":"one"},"mark":{"type":"text","align":"center","baseline":"middle","fontSize":12.5,"color":"black"},"encoding":{"x":{"datum":162.45,"type":"quantitative","axis":null},"y":{"datum":47.86,"type":"quantitative","axis":null},"text":{"value":"48.1151"}}},
{"data":{"name":"one"},"mark":{"type":"point","shape":"M-1,-0.206L1,-0.206L1,0.206L-1,0.206Z","size":3969,"filled":true,"color":"#0000ff","opacity":1,"strokeWidth":0},"encoding":{"x":{"datum":162.52,"type":"quantitative","axis":null},"y":{"datum":29.29,"type":"quantitative","axis":null}}},
{"data":{"name":"one"},"mark":{"type":"text","align":"center","baseline":"middle","fontSize":12.5,"color":"white"},"encoding":{"x":{"datum":162.52,"type":"quantitative","axis":null},"y":{"datum":29.29,"type":"quantitative","axis":null},"text":{"value":"30.8502"}}}
]},
{"width":1175,"height":94,"layer":[
{"data":{"name":"hist"},"mark":{"type":"rule","color":"black","strokeWidth":1.5},"encoding":{"x":{"field":"i","type":"quantitative","scale":{"domain":[-0.9,157.07],"nice":false,"zero":false},"axis":null},"y":{"field":"h","type":"quantitative","scale":{"domain":[-4.922,9.766],"nice":false,"zero":false},"axis":null},"y2":{"datum":0}}},
{"data":{"name":"macd"},"mark":{"type":"line","color":"#ff2020","strokeWidth":1,"clip":true},"encoding":{"x":{"field":"i","type":"quantitative","axis":null},"y":{"field":"m","type":"quantitative","axis":null}}},
{"data":{"name":"sig"},"mark":{"type":"line","color":"#2a2aff","strokeWidth":1,"clip":true},"encoding":{"x":{"field":"i","type":"quantitative","axis":null},"y":{"field":"m","type":"quantitative","axis":null}}},
{"data":{"name":"one"},"mark":{"type":"rect","color":"white"},"encoding":{"x":{"datum":-0.9,"type":"quantitative","axis":null},"x2":{"datum":44.0},"y":{"datum":9.766,"type":"quantitative","axis":null},"y2":{"datum":7.27}}},
{"data":{"name":"one"},"mark":{"type":"text","align":"left","baseline":"middle","fontSize":12,"color":"#000","dy":9},"encoding":{"x":{"datum":-0.23,"type":"quantitative","axis":null},"y":{"datum":9.766,"type":"quantitative","axis":null},"text":{"value":"VCS -"}}},
{"data":{"name":"one"},"mark":{"type":"text","align":"left","baseline":"middle","fontSize":12,"color":"#ff3b3b","dy":9},"encoding":{"x":{"datum":5.42,"type":"quantitative","axis":null},"y":{"datum":9.766,"type":"quantitative","axis":null},"text":{"value":"MACD(12,26)"}}},
{"data":{"name":"one"},"mark":{"type":"text","align":"left","baseline":"middle","fontSize":12,"color":"#000","dy":9},"encoding":{"x":{"datum":17.72,"type":"quantitative","axis":null},"y":{"datum":9.766,"type":"quantitative","axis":null},"text":{"value":"= 2.28,"}}},
{"data":{"name":"one"},"mark":{"type":"text","align":"left","baseline":"middle","fontSize":12,"color":"#4848ff","dy":9},"encoding":{"x":{"datum":24.1,"type":"quantitative","axis":null},"y":{"datum":9.766,"type":"quantitative","axis":null},"text":{"value":"Signal(12,26,9)"}}},
{"data":{"name":"one"},"mark":{"type":"text","align":"left","baseline":"middle","fontSize":12,"color":"#000","dy":9},"encoding":{"x":{"datum":38.83,"type":"quantitative","axis":null},"y":{"datum":9.766,"type":"quantitative","axis":null},"text":{"value":"= 3.79"}}},
{"data":{"name":"one"},"mark":{"type":"point","shape":"M-1,-0.206L1,-0.206L1,0.206L-1,0.206Z","size":3969,"filled":true,"color":"#0000ff","opacity":1,"strokeWidth":0},"encoding":{"x":{"datum":162.52,"type":"quantitative","axis":null},"y":{"datum":4.766,"type":"quantitative","axis":null}}},
{"data":{"name":"one"},"mark":{"type":"text","align":"center","baseline":"middle","fontSize":12.5,"color":"white"},"encoding":{"x":{"datum":162.52,"type":"quantitative","axis":null},"y":{"datum":4.766,"type":"quantitative","axis":null},"text":{"value":"3.79491"}}},
{"data":{"name":"one"},"mark":{"type":"point","shape":"M-1,0L-0.8,-0.183L1,-0.183L1,0.183L-0.8,0.183Z","size":5041,"filled":true,"color":"#ff0000","opacity":1,"strokeWidth":0},"encoding":{"x":{"datum":161.98,"type":"quantitative","axis":null},"y":{"datum":2.109,"type":"quantitative","axis":null}}},
{"data":{"name":"one"},"mark":{"type":"text","align":"center","baseline":"middle","fontSize":12.5,"color":"#200000"},"encoding":{"x":{"datum":162.45,"type":"quantitative","axis":null},"y":{"datum":2.109,"type":"quantitative","axis":null},"text":{"value":"2.28181"}}}
]},
{"width":1175,"height":112,"layer":[
{"data":{"name":"bema"},"mark":{"type":"line","color":"#f9a85f","strokeWidth":1,"clip":true},"encoding":{"x":{"field":"i","type":"quantitative","scale":{"domain":[-0.9,157.07],"nice":false,"zero":false},"axis":null},"y":{"field":"b","type":"quantitative","scale":{"domain":[-2.0638,2.7021],"nice":false,"zero":false},"axis":null}}},
{"data":{"name":"one"},"mark":{"type":"rule","color":"#ff0000","strokeWidth":2},"encoding":{"y":{"datum":1,"type":"quantitative","axis":null}}},
{"data":{"name":"one"},"mark":{"type":"rule","color":"#22a022","strokeWidth":1},"encoding":{"y":{"datum":0,"type":"quantitative","axis":null}}},
{"data":{"name":"one"},"mark":{"type":"rule","color":"#ff0000","strokeWidth":2},"encoding":{"y":{"datum":-1,"type":"quantitative","axis":null}}},
{"data":{"name":"beta"},"mark":{"type":"line","color":"#0000ff","strokeWidth":2.5,"clip":true},"encoding":{"x":{"field":"i","type":"quantitative","axis":null},"y":{"field":"b","type":"quantitative","axis":null}}},
{"data":{"name":"one"},"mark":{"type":"rect","color":"white"},"encoding":{"x":{"datum":-0.9,"type":"quantitative","axis":null},"x2":{"datum":62.5},"y":{"datum":2.7021,"type":"quantitative","axis":null},"y2":{"datum":2.02}}},
{"data":{"name":"one"},"mark":{"type":"text","align":"left","baseline":"middle","fontSize":12,"color":"#000","dy":8},"encoding":{"x":{"datum":-0.23,"type":"quantitative","axis":null},"y":{"datum":2.7021,"type":"quantitative","axis":null},"text":{"value":"VCS -"}}},
{"data":{"name":"one"},"mark":{"type":"text","align":"left","baseline":"middle","fontSize":12,"color":"#2020ff","dy":8},"encoding":{"x":{"datum":5.42,"type":"quantitative","axis":null},"y":{"datum":2.7021,"type":"quantitative","axis":null},"text":{"value":"Beta"}}},
{"data":{"name":"one"},"mark":{"type":"text","align":"left","baseline":"middle","fontSize":12,"color":"#000","dy":8},"encoding":{"x":{"datum":10.93,"type":"quantitative","axis":null},"y":{"datum":2.7021,"type":"quantitative","axis":null},"text":{"value":"= 1.38,"}}},
{"data":{"name":"one"},"mark":{"type":"text","align":"left","baseline":"middle","fontSize":12,"color":"#ff2020","dy":8},"encoding":{"x":{"datum":17.52,"type":"quantitative","axis":null},"y":{"datum":2.7021,"type":"quantitative","axis":null},"text":{"value":"1"}}},
{"data":{"name":"one"},"mark":{"type":"text","align":"left","baseline":"middle","fontSize":12,"color":"#000","dy":8},"encoding":{"x":{"datum":19.4,"type":"quantitative","axis":null},"y":{"datum":2.7021,"type":"quantitative","axis":null},"text":{"value":"= 1.00,"}}},
{"data":{"name":"one"},"mark":{"type":"text","align":"left","baseline":"middle","fontSize":12,"color":"#22aa22","dy":8},"encoding":{"x":{"datum":25.85,"type":"quantitative","axis":null},"y":{"datum":2.7021,"type":"quantitative","axis":null},"text":{"value":"0"}}},
{"data":{"name":"one"},"mark":{"type":"text","align":"left","baseline":"middle","fontSize":12,"color":"#000","dy":8},"encoding":{"x":{"datum":27.9,"type":"quantitative","axis":null},"y":{"datum":2.7021,"type":"quantitative","axis":null},"text":{"value":"= 0.00,"}}},
{"data":{"name":"one"},"mark":{"type":"text","align":"left","baseline":"middle","fontSize":12,"color":"#ff2020","dy":8},"encoding":{"x":{"datum":34.3,"type":"quantitative","axis":null},"y":{"datum":2.7021,"type":"quantitative","axis":null},"text":{"value":"-1"}}},
{"data":{"name":"one"},"mark":{"type":"text","align":"left","baseline":"middle","fontSize":12,"color":"#000","dy":8},"encoding":{"x":{"datum":37.2,"type":"quantitative","axis":null},"y":{"datum":2.7021,"type":"quantitative","axis":null},"text":{"value":"= -1.00,"}}},
{"data":{"name":"one"},"mark":{"type":"text","align":"left","baseline":"middle","fontSize":12,"color":"#f9a85f","dy":8},"encoding":{"x":{"datum":44.14,"type":"quantitative","axis":null},"y":{"datum":2.7021,"type":"quantitative","axis":null},"text":{"value":"EMA(Beta,15)"}}},
{"data":{"name":"one"},"mark":{"type":"text","align":"left","baseline":"middle","fontSize":12,"color":"#000","dy":8},"encoding":{"x":{"datum":57.3,"type":"quantitative","axis":null},"y":{"datum":2.7021,"type":"quantitative","axis":null},"text":{"value":"= 0.62"}}},
{"data":{"name":"one"},"mark":{"type":"point","shape":"M-1,0L-0.8,-0.183L1,-0.183L1,0.183L-0.8,0.183Z","size":5041,"filled":true,"color":"#0000ff","opacity":1,"strokeWidth":0},"encoding":{"x":{"datum":161.98,"type":"quantitative","axis":null},"y":{"datum":1.4255,"type":"quantitative","axis":null}}},
{"data":{"name":"one"},"mark":{"type":"text","align":"center","baseline":"middle","fontSize":12.5,"color":"white"},"encoding":{"x":{"datum":162.45,"type":"quantitative","axis":null},"y":{"datum":1.4255,"type":"quantitative","axis":null},"text":{"value":"1.37799"}}},
{"data":{"name":"one"},"mark":{"type":"point","shape":"M-1,-0.778L1,-0.778L1,0.778L-1,0.778Z","size":324,"filled":true,"color":"#ff0000","opacity":1,"strokeWidth":0},"encoding":{"x":{"datum":159.49,"type":"quantitative","axis":null},"y":{"datum":0.787,"type":"quantitative","axis":null}}},
{"data":{"name":"one"},"mark":{"type":"text","align":"center","baseline":"middle","fontSize":12.5,"color":"#200000"},"encoding":{"x":{"datum":159.49,"type":"quantitative","axis":null},"y":{"datum":0.787,"type":"quantitative","axis":null},"text":{"value":"1"}}},
{"data":{"name":"one"},"mark":{"type":"point","shape":"M-1,-0.188L1,-0.188L1,0.188L-1,0.188Z","size":4761,"filled":true,"color":"#f9b070","opacity":1,"strokeWidth":0},"encoding":{"x":{"datum":162.92,"type":"quantitative","axis":null},"y":{"datum":0.1277,"type":"quantitative","axis":null}}},
{"data":{"name":"one"},"mark":{"type":"text","align":"center","baseline":"middle","fontSize":12,"color":"#200000"},"encoding":{"x":{"datum":162.92,"type":"quantitative","axis":null},"y":{"datum":0.1277,"type":"quantitative","axis":null},"text":{"value":"0.621989"}}},
{"data":{"name":"one"},"mark":{"type":"point","shape":"M-1,-0.188L1,-0.188L1,0.188L-1,0.188Z","size":4761,"filled":true,"color":"#009a00","opacity":1,"strokeWidth":0},"encoding":{"x":{"datum":162.92,"type":"quantitative","axis":null},"y":{"datum":-0.5106,"type":"quantitative","axis":null}}},
{"data":{"name":"one"},"mark":{"type":"text","align":"center","baseline":"middle","fontSize":12.5,"color":"#e8e8e8"},"encoding":{"x":{"datum":162.92,"type":"quantitative","axis":null},"y":{"datum":-0.5106,"type":"quantitative","axis":null},"text":{"value":"0.00000"}}},
{"data":{"name":"one"},"mark":{"type":"point","shape":"M-1,-0.778L1,-0.778L1,0.778L-1,0.778Z","size":324,"filled":true,"color":"#ff0000","opacity":1,"strokeWidth":0},"encoding":{"x":{"datum":159.49,"type":"quantitative","axis":null},"y":{"datum":-1.1277,"type":"quantitative","axis":null}}},
{"data":{"name":"one"},"mark":{"type":"text","align":"center","baseline":"middle","fontSize":12.5,"color":"#200000"},"encoding":{"x":{"datum":159.49,"type":"quantitative","axis":null},"y":{"datum":-1.1277,"type":"quantitative","axis":null},"text":{"value":"-1"}}}
]},
{"width":1175,"height":101,"resolve":{"axis":{"x":"independent","y":"independent"}},"layer":[
{"data":{"name":"mom"},"mark":{"type":"line","color":"#111111","strokeWidth":1,"clip":true},"encoding":{"x":{"field":"i","type":"quantitative","scale":{"domain":[-0.9,157.07],"nice":false,"zero":false},"axis":null},"y":{"field":"m","type":"quantitative","scale":{"domain":[-17.583,24.5],"nice":false,"zero":false},"axis":{"orient":"right","values":[20,10,0,-10],"grid":true,"gridColor":"#404040","gridDash":[1,2],"domain":false,"ticks":true,"tickSize":4,"tickColor":"#888888","labelAlign":"right","labelPadding":63,"labelFontSize":12,"labelColor":"#111111","title":null}}}},
{"data":{"name":"one"},"mark":{"type":"rect","color":"white"},"encoding":{"x":{"datum":-0.9,"type":"quantitative","axis":null},"x2":{"datum":31.4},"y":{"datum":24.5,"type":"quantitative","axis":null},"y2":{"datum":19.08}}},
{"data":{"name":"one"},"mark":{"type":"text","align":"left","baseline":"middle","fontSize":12,"color":"#000","dy":6.5},"encoding":{"x":{"datum":-0.23,"type":"quantitative","axis":null},"y":{"datum":24.5,"type":"quantitative","axis":null},"text":{"value":"VCS - Momentum(Close,10) = -8.00"}}},
{"data":{"name":"one"},"mark":{"type":"point","shape":"M-1,0L-0.5,-0.464L1,-0.464L1,0.464L-0.5,0.464Z","size":784,"filled":true,"color":"black","opacity":1,"strokeWidth":0},"encoding":{"x":{"datum":159.09,"type":"quantitative","axis":null},"y":{"datum":-9.458,"type":"quantitative","axis":null}}},
{"data":{"name":"one"},"mark":{"type":"text","align":"center","baseline":"middle","fontSize":12.5,"color":"white"},"encoding":{"x":{"datum":159.56,"type":"quantitative","axis":null},"y":{"datum":-9.458,"type":"quantitative","axis":null},"text":{"value":"-8"}}}
]},
{"width":1175,"height":417,"resolve":{"scale":{"y":"independent"},"axis":{"x":"independent","y":"independent"}},"layer":[
{"data":{"name":"bb"},"mark":{"type":"area","color":"#f1f1f1","stroke":"#d9d9d9","strokeWidth":1,"clip":true},"encoding":{"x":{"field":"i","type":"quantitative","scale":{"domain":[-0.9,157.07],"nice":false,"zero":false},"axis":{"values":[15,36,58,80,97,116,139],"labelExpr":"datum.value==15?'Oct':datum.value==36?'Nov':datum.value==58?'Dec':datum.value==80?'2017':datum.value==97?'Feb':datum.value==116?'Mar':'Apr'","labelAlign":"left","labelBaseline":"top","labelPadding":-11,"labelDx":4,"tickSize":13,"tickColor":"#555555","domain":false,"grid":true,"gridColor":"#cfcfcf","gridDash":[1,3],"labelFontSize":12,"labelColor":"#111111","labelFontWeight":{"condition":{"test":"datum.value==80","value":"bold"},"value":"normal"},"title":null}},"y":{"field":"b","type":"quantitative","scale":{"domain":[108.73,174.921],"nice":false,"zero":false},"axis":{"orient":"right","values":[110,115,120,125,130,135,140,145,150,155,160,165,170],"grid":true,"gridColor":"#404040","gridDash":[1,2],"domain":false,"ticks":true,"tickSize":4,"tickColor":"#888888","labelAlign":"right","labelPadding":65,"labelFontSize":12,"labelColor":"#111111","title":null}},"y2":{"field":"t"}}},
{"data":{"name":"px"},"mark":{"type":"rule","color":"#b9b9e3","strokeWidth":2},"encoding":{"x":{"field":"i","type":"quantitative","axis":null},"y":{"field":"v","type":"quantitative","scale":{"domain":[0,637000],"nice":false,"zero":false},"axis":null},"y2":{"datum":0}}},
{"layer":[
{"mark":{"type":"rule","color":"#000000","strokeWidth":1,"strokeDash":[4,3]},"transform":[{"filter":"indexof(['161.8%','127.2%','78.6%','61.8%'], datum.pct) >= 0"}],"data":{"name":"fib"},"encoding":{"x":{"datum":65,"type":"quantitative","axis":null},"x2":{"datum":157.07},"y":{"field":"p","type":"quantitative","scale":{"domain":[108.73,174.921],"nice":false,"zero":false},"axis":null}}},
{"mark":{"type":"rule","color":"#555555","strokeWidth":1.5},"transform":[{"filter":"datum.pct=='100.0%'"}],"data":{"name":"fib"},"encoding":{"x":{"datum":65,"type":"quantitative","axis":null},"x2":{"datum":157.07},"y":{"field":"p","type":"quantitative","axis":null}}},
{"mark":{"type":"rule","color":"#000000","strokeWidth":1.5},"transform":[{"filter":"datum.pct=='50.0%' || datum.pct=='0.0%'"}],"data":{"name":"fib"},"encoding":{"x":{"datum":65,"type":"quantitative","axis":null},"x2":{"datum":157.07},"y":{"field":"p","type":"quantitative","axis":null}}},
{"data":{"name":"fib"},"mark":{"type":"text","align":"left","baseline":"top","fontSize":12.5,"color":"#333333","dy":3},"encoding":{"x":{"datum":65.1,"type":"quantitative","axis":null},"y":{"field":"p","type":"quantitative","axis":null},"text":{"field":"pct"}}},
{"data":{"name":"fib"},"mark":{"type":"text","align":"right","baseline":"top","fontSize":12.5,"color":"#333333","dy":3},"encoding":{"x":{"datum":156.8,"type":"quantitative","axis":null},"y":{"field":"p","type":"quantitative","axis":null},"text":{"field":"lbl"}}},
{"data":{"name":"ma"},"mark":{"type":"line","strokeWidth":1,"clip":true},"encoding":{"x":{"field":"i","type":"quantitative","axis":null},"y":{"field":"p","type":"quantitative","axis":null},"color":{"field":"s","type":"nominal","scale":{"domain":["a","b","c"],"range":["#ffa860","#2020ff","#10e010"]},"legend":null}}},
{"data":{"name":"trend"},"mark":{"type":"line","color":"#ff1a1a","strokeWidth":1.2,"clip":true},"encoding":{"x":{"field":"i","type":"quantitative","axis":null},"y":{"field":"p","type":"quantitative","axis":null},"detail":{"field":"ln","type":"nominal"}}},
{"data":{"name":"px"},"mark":{"type":"rule","color":"black","strokeWidth":1},"encoding":{"x":{"field":"i","type":"quantitative","axis":null},"y":{"field":"l","type":"quantitative","axis":null},"y2":{"field":"h"}}},
{"data":{"name":"px"},"mark":{"type":"bar","size":5,"stroke":"black","strokeWidth":1},"encoding":{"x":{"field":"i","type":"quantitative","axis":null},"y":{"field":"o","type":"quantitative","axis":null},"y2":{"field":"c"},"fill":{"condition":{"test":"datum.c>=datum.o","value":"white"},"value":"black"}}},
{"data":{"name":"one"},"mark":{"type":"rule","color":"#ff0000","strokeWidth":1.5},"encoding":{"x":{"datum":147.9,"type":"quantitative","axis":null},"x2":{"datum":151.8},"y":{"datum":156.7,"type":"quantitative","axis":null}}},
{"data":{"name":"one"},"mark":{"type":"point","shape":"M-1,-0.6L1,0L-1,0.6Z","size":289,"filled":true,"color":"#ff0000","opacity":1,"strokeWidth":0},"encoding":{"x":{"datum":152.9,"type":"quantitative","axis":null},"y":{"datum":156.7,"type":"quantitative","axis":null}}},
{"data":{"name":"one"},"mark":{"type":"rect","color":"white"},"encoding":{"x":{"datum":-0.9,"type":"quantitative","axis":null},"x2":{"datum":157.07},"y":{"datum":174.921,"type":"quantitative","axis":null},"y2":{"datum":172.38}}},
{"data":{"name":"one"},"mark":{"type":"text","align":"left","baseline":"middle","fontSize":12,"color":"#000","dy":8},"encoding":{"x":{"datum":-0.23,"type":"quantitative","axis":null},"y":{"datum":174.921,"type":"quantitative","axis":null},"text":{"value":"VCS - Daily 4/13/2017 Open 157.2, Hi 158, Lo 153.3, Close 157 (-0.1%) Vol 102,387"}}},
{"data":{"name":"one"},"mark":{"type":"text","align":"left","baseline":"middle","fontSize":12,"color":"#ffa860","dy":8},"encoding":{"x":{"datum":73.45,"type":"quantitative","axis":null},"y":{"datum":174.921,"type":"quantitative","axis":null},"text":{"value":"MA(Close,15)"}}},
{"data":{"name":"one"},"mark":{"type":"text","align":"left","baseline":"middle","fontSize":12,"color":"#000","dy":8},"encoding":{"x":{"datum":86.9,"type":"quantitative","axis":null},"y":{"datum":174.921,"type":"quantitative","axis":null},"text":{"value":"= 162.87,"}}},
{"data":{"name":"one"},"mark":{"type":"text","align":"left","baseline":"middle","fontSize":12,"color":"#3a3aff","dy":8},"encoding":{"x":{"datum":95.36,"type":"quantitative","axis":null},"y":{"datum":174.921,"type":"quantitative","axis":null},"text":{"value":"Mid MA(Close,45)"}}},
{"data":{"name":"one"},"mark":{"type":"text","align":"left","baseline":"middle","fontSize":12,"color":"#000","dy":8},"encoding":{"x":{"datum":111.5,"type":"quantitative","axis":null},"y":{"datum":174.921,"type":"quantitative","axis":null},"text":{"value":"= 154.64,"}}},
{"data":{"name":"one"},"mark":{"type":"text","align":"left","baseline":"middle","fontSize":12,"color":"#33dd33","dy":8},"encoding":{"x":{"datum":120.1,"type":"quantitative","axis":null},"y":{"datum":174.921,"type":"quantitative","axis":null},"text":{"value":"Long MA(Close,100)"}}},
{"data":{"name":"one"},"mark":{"type":"text","align":"left","baseline":"middle","fontSize":12,"color":"#000","dy":8},"encoding":{"x":{"datum":138.9,"type":"quantitative","axis":null},"y":{"datum":174.921,"type":"quantitative","axis":null},"text":{"value":"= 138.73,"}}},
{"data":{"name":"one"},"mark":{"type":"text","align":"left","baseline":"middle","fontSize":12,"color":"#d4d4d4","dy":8},"encoding":{"x":{"datum":147.5,"type":"quantitative","axis":null},"y":{"datum":174.921,"type":"quantitative","axis":null},"text":{"value":"BBTop(Cl"}}},
{"data":{"name":"one"},"mark":{"type":"point","shape":"M-1,0L-0.714,-0.265L1,-0.265L1,0.265L-0.714,0.265Z","size":2401,"filled":true,"color":"black","opacity":1,"strokeWidth":0},"encoding":{"x":{"datum":160.63,"type":"quantitative","axis":null},"y":{"datum":156.905,"type":"quantitative","axis":null}}},
{"data":{"name":"one"},"mark":{"type":"text","align":"center","baseline":"middle","fontSize":12.5,"color":"white"},"encoding":{"x":{"datum":161.1,"type":"quantitative","axis":null},"y":{"datum":156.905,"type":"quantitative","axis":null},"text":{"value":"157"}}}
]}
]}
]
}
